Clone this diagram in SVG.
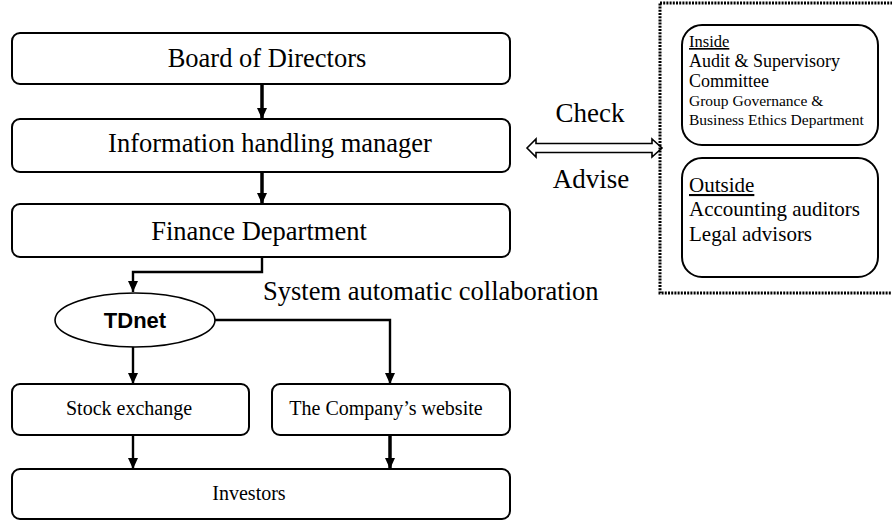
<svg xmlns="http://www.w3.org/2000/svg" width="892" height="520" viewBox="0 0 892 520">
  <style>
    .box { fill: #fff; stroke: #000; stroke-width: 2; }
    .serif { font-family: "Liberation Serif", "Times New Roman", serif; fill: #000; }
    .main { font-size: 26.5px; text-anchor: middle; }
    .small { font-size: 20px; text-anchor: middle; }
    .conn { fill: none; stroke: #000; stroke-width: 3.5; }
    .conn2 { fill: none; stroke: #000; stroke-width: 2.4; }
  </style>
  <defs>
    <marker id="ah" markerUnits="userSpaceOnUse" markerWidth="11" markerHeight="12" refX="11" refY="5" orient="auto">
      <path d="M0,0 L11,5 L0,10 Z" fill="#000"/>
    </marker>
  </defs>
  <rect width="892" height="520" fill="#fff"/>

  <g id="connectors">
    <line class="conn" x1="262" y1="84" x2="262" y2="119" marker-end="url(#ah)"/>
    <line class="conn" x1="262" y1="172" x2="262" y2="204" marker-end="url(#ah)"/>
    <polyline class="conn2" points="262,257 262,272 133,272 133,292" marker-end="url(#ah)"/>
    <polyline class="conn2" points="215,320 390,320 390,384" marker-end="url(#ah)"/>
    <line class="conn2" x1="133" y1="347" x2="133" y2="384" marker-end="url(#ah)"/>
    <line class="conn2" x1="133" y1="435" x2="133" y2="469" marker-end="url(#ah)"/>
    <line class="conn" x1="390" y1="435" x2="390" y2="469" marker-end="url(#ah)"/>
    <polygon points="527,148 536,139 536,143.5 652,143.5 652,139 662,148 652,157 652,152.5 536,152.5 536,157" fill="#fff" stroke="#000" stroke-width="1.6"/>
  </g>

  <g id="board">
    <rect class="box" x="12" y="33" width="498" height="51" rx="8"/>
    <text class="serif main" x="267" y="67">Board of Directors</text>
  </g>
  <g id="info-manager">
    <rect class="box" x="12" y="119" width="498" height="53" rx="8"/>
    <text class="serif main" x="270" y="152">Information handling manager</text>
  </g>
  <g id="finance">
    <rect class="box" x="12" y="204" width="498" height="53" rx="8"/>
    <text class="serif main" x="259" y="240">Finance Department</text>
  </g>
  <g id="label-system">
    <text class="serif" x="263" y="300" font-size="26.5">System automatic collaboration</text>
  </g>
  <g id="tdnet">
    <ellipse cx="135" cy="320" rx="80" ry="27" fill="#fff" stroke="#000" stroke-width="1.6"/>
    <text x="135" y="328" font-family="Liberation Sans, Arial, sans-serif" font-weight="bold" font-size="22" text-anchor="middle">TDnet</text>
  </g>
  <g id="stock-exchange">
    <rect class="box" x="12" y="384" width="237" height="51" rx="8"/>
    <text class="serif small" x="129" y="415">Stock exchange</text>
  </g>
  <g id="website">
    <rect class="box" x="272" y="384" width="238" height="51" rx="8"/>
    <text class="serif small" x="386" y="415">The Company’s website</text>
  </g>
  <g id="investors">
    <rect class="box" x="12" y="469" width="498" height="50" rx="8"/>
    <text class="serif small" x="249" y="500">Investors</text>
  </g>
  <g id="label-check">
    <text class="serif" x="590" y="122" font-size="27" text-anchor="middle">Check</text>
  </g>
  <g id="label-advise">
    <text class="serif" x="591" y="188" font-size="27" text-anchor="middle">Advise</text>
  </g>

  <g id="oversight">
    <rect x="660" y="3" width="260" height="290" fill="none" stroke="#000" stroke-width="3" stroke-dasharray="2,1.2"/>
  </g>
  <g id="inside">
    <rect class="box" x="682" y="25" width="196" height="120" rx="20"/>
    <text class="serif" x="689" y="47" font-size="16.5" text-decoration="underline">Inside</text>
    <text class="serif" x="689" y="67" font-size="18">Audit &amp; Supervisory</text>
    <text class="serif" x="689" y="87" font-size="18">Committee</text>
    <text class="serif" x="689" y="106" font-size="15.5">Group Governance &amp;</text>
    <text class="serif" x="689" y="125" font-size="15.5">Business Ethics Department</text>
  </g>
  <g id="outside">
    <rect class="box" x="682" y="158" width="196" height="119" rx="20"/>
    <text class="serif" x="689" y="192" font-size="21" text-decoration="underline">Outside</text>
    <text class="serif" x="689" y="216" font-size="21">Accounting auditors</text>
    <text class="serif" x="689" y="241" font-size="21">Legal advisors</text>
  </g>
</svg>
